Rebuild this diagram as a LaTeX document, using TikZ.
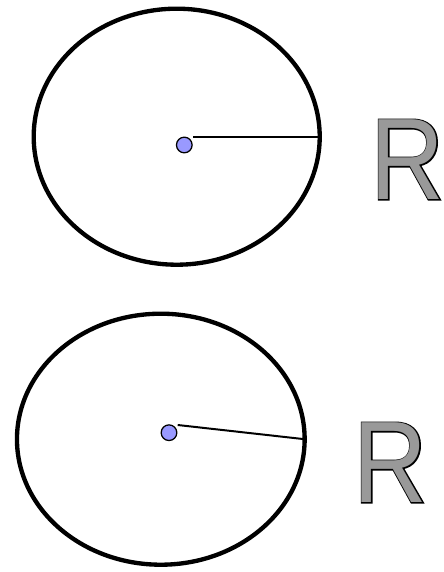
\documentclass[tikz,border=0pt]{standalone}
\usepackage{fontspec}
\usepackage{xcolor}
\usepackage{tikz}
\usetikzlibrary{shapes.geometric}

\newfontfamily\rfont[FakeStretch=0.88]{Liberation Sans}
\newfontfamily\rfontedge[FakeStretch=0.88,FakeBold=2]{Liberation Sans}
\definecolor{hubblue}{RGB}{153,153,255}
\definecolor{rgray}{RGB}{153,153,153}
\newcommand{\biglabel}[1]{\fontsize{99}{99}\selectfont\rlap{\rfontedge\color{black}#1}{\rfont\color{rgray}#1}}

\begin{document}
\begin{tikzpicture}[x=0.03cm, y=-0.03cm,
        rim/.style={ellipse, draw, line width=3.7pt, outer sep=0pt, inner sep=0pt,
            minimum width=8.58cm, minimum height=7.68cm},
        hub/.style={circle, draw, fill=hubblue, line width=1.1pt, inner sep=0pt, minimum size=0.47cm},
        spoke/.style={line width=1.7pt}]
        \useasboundingbox (0,0) rectangle (443,572);
        % upper one: radius drawn level
        \node[rim] (top) at (176.7,136.7) {};
        \node[hub] (tophub) at (184.3,145) {};
        \coordinate (topstart) at (193.3,136.7);
        \draw[spoke] (topstart) -- (top.east);
        \node[anchor=base] (topR) at (407.5,199.5) {\biglabel{R}};
        % lower one: radius drawn slanted
        \node[rim, minimum width=8.63cm, minimum height=7.53cm] (bot) at (160.8,439.2) {};
        \node[hub] (bothub) at (169,432.7) {};
        \coordinate (botstart) at (177.7,425);
        \draw[spoke] (botstart) -- (bot.east);
        \node[anchor=base] (botR) at (390.5,502.5) {\biglabel{R}};
    \end{tikzpicture}
\end{document}
